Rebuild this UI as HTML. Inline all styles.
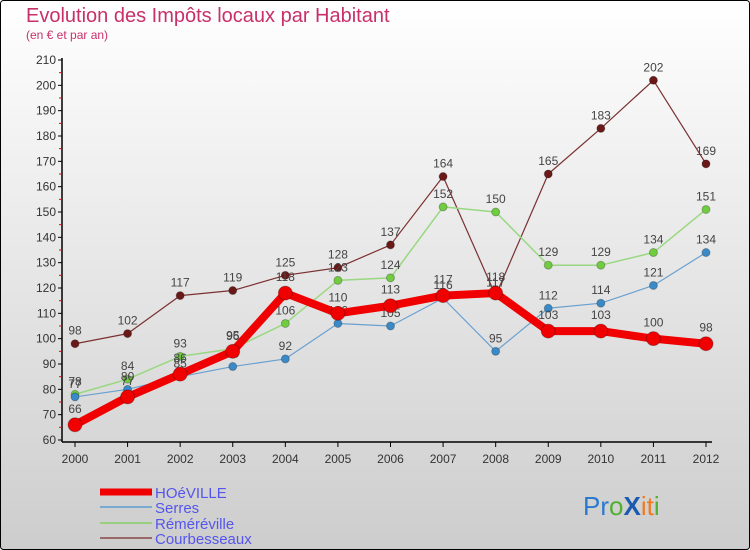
<!DOCTYPE html>
<html><head><meta charset="utf-8"><style>
html,body{margin:0;padding:0;width:750px;height:550px;overflow:hidden}
svg{display:block;font-family:"Liberation Sans",sans-serif}
</style></head><body>
<svg id="chart" width="750" height="550" viewBox="0 0 750 550">
<defs><linearGradient id="bg" x1="0" y1="0" x2="0" y2="1"><stop offset="0" stop-color="#ffffff"/><stop offset="1" stop-color="#cdcdcd"/></linearGradient></defs>
<rect x="0.5" y="0.5" width="749" height="549" fill="url(#bg)" stroke="#000" rx="3"/>
<text x="26" y="22" font-size="20" fill="#c8306a">Evolution des Impôts locaux par Habitant</text>
<text x="26" y="39" font-size="12" fill="#c8306a">(en € et par an)</text>
<g id="axes"></g>
<g id="series"></g>
<g id="legend">
<line x1="100" y1="492" x2="152" y2="492" stroke="#f00000" stroke-width="7"/>
<text x="155" y="498" font-size="15" fill="#5555ee">HOéVILLE</text>
<line x1="100" y1="507" x2="152" y2="507" stroke="#7aaad0" stroke-width="2"/>
<text x="155" y="513" font-size="15" fill="#5555ee">Serres</text>
<line x1="100" y1="523" x2="152" y2="523" stroke="#99d080" stroke-width="2"/>
<text x="155" y="529" font-size="15" fill="#5555ee">Réméréville</text>
<line x1="100" y1="538" x2="152" y2="538" stroke="#9a6a6a" stroke-width="2"/>
<text x="155" y="544" font-size="15" fill="#5555ee">Courbesseaux</text>
</g>
<g font-size="26" font-family="'Liberation Sans',sans-serif">
<text x="583" y="515"><tspan fill="#2a7ad0">Pr</tspan><tspan fill="#50b030">o</tspan><tspan fill="#1a5ab0" font-weight="bold">X</tspan><tspan fill="#f07a20">it</tspan><tspan fill="#50b030">i</tspan></text>
</g>
</svg>
<script>
const years = [2000,2001,2002,2003,2004,2005,2006,2007,2008,2009,2010,2011,2012];
const hoeville = [66,77,86,95,118,110,113,117,118,103,103,100,98];
const serres = [77,80,85,89,92,106,105,116,95,112,114,121,134];
const remereville = [78,84,93,96,106,123,124,152,150,129,129,134,151];
const courbesseaux = [98,102,117,119,125,128,137,164,117,165,183,202,169];
const yTicks = [60,70,80,90,100,110,120,130,140,150,160,170,180,190,200,210];
const NS='http://www.w3.org/2000/svg';
const x = i => 75 + i*(706-75)/12;
const y = v => 440 - (v-60)*(380/150);
function mk(tag, attrs, parent){const e=document.createElementNS(NS,tag);for(const k in attrs)e.setAttribute(k,attrs[k]);parent.appendChild(e);return e;}
const ax=document.getElementById('axes');
let a=mk('line',{x1:62,y1:y(210)-2,x2:62,y2:442,stroke:'#000','stroke-width':1.5},ax);


a=mk('line',{x1:62,y1:442,x2:712,y2:442,stroke:'#000','stroke-width':1.5},ax);


yTicks.forEach(v=>{
  const t=mk('line',{x1:58,y1:y(v),x2:62,y2:y(v),stroke:'#000'},ax);
  
  
  if(v<210){const m=mk('line',{x1:59,y1:y(v+5),x2:62,y2:y(v+5),stroke:'#e00'},ax);
  
  }
  const l=mk('text',{x:56,y:y(v)+4,'font-size':12,fill:'#333','text-anchor':'end'},ax);
  l.textContent=v;
  
  
});
years.forEach((yr,i)=>{
  const t=mk('line',{x1:x(i),y1:442,x2:x(i),y2:447,stroke:'#000'},ax);
  
  
  const l=mk('text',{x:x(i),y:463,'font-size':12,fill:'#333','text-anchor':'middle'},ax);
  l.textContent=yr;
  
  
});
const sg=document.getElementById('series');
function draw(name,vals,color,width,r,fill){
  const g=mk('g',{},sg);
  
  
  const p=mk('polyline',{points:vals.map((v,i)=>x(i)+','+y(v)).join(' '),fill:'none',stroke:color,'stroke-width':width,'stroke-linejoin':'round'},g);
  
  
  vals.forEach((v,i)=>{
    const c=mk('circle',{cx:x(i),cy:y(v),r:r,fill:fill,stroke:'rgba(0,0,0,0.25)','stroke-width':1},g);
    
    
    const l=mk('text',{x:x(i),y:y(v)-r-5,'font-size':12,fill:'#444','text-anchor':'middle'},g);
    l.textContent=v;
    
    
  });
}
draw('courbesseaux',courbesseaux,'#7a3030',1.2,4,'#6a1818');
draw('remereville',remereville,'#99d880',1.5,4,'#70cc40');
draw('serres',serres,'#6aa0d0',1.2,4,'#3a8ac8');
draw('hoeville',hoeville,'#f00000',8,7,'#f00000');
</script>
</body></html>
